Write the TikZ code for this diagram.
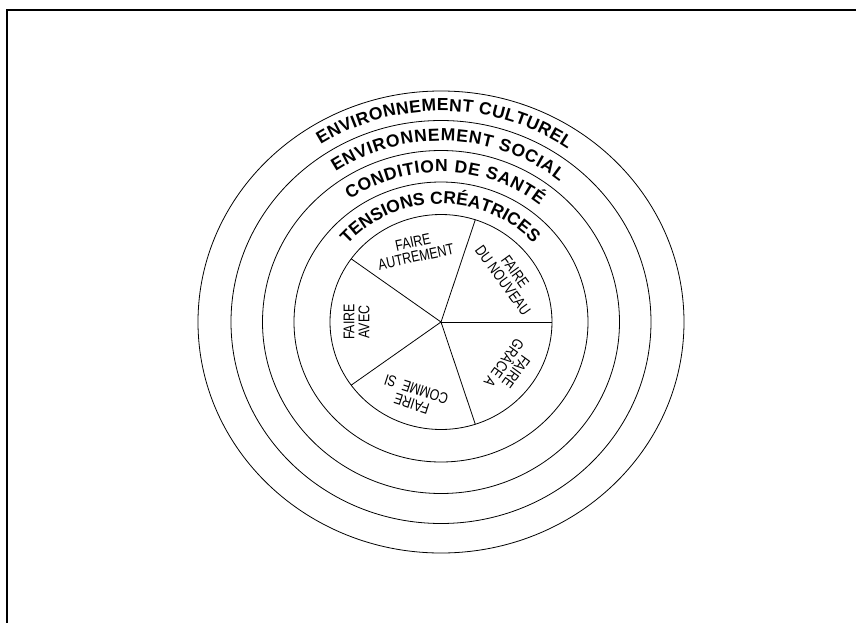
\documentclass[tikz,border=0pt]{standalone}
\usepackage{fontspec}
\setmainfont{Liberation Sans}
\newfontfamily\sectfont[FakeStretch=0.8]{Liberation Sans}
\newcommand\ringfont{\fontsize{17.5}{17.5}\selectfont\bfseries}
\usetikzlibrary{decorations.text}
\tikzset{
  ring/.style={draw=black, line width=0.8pt},
  frameline/.style={draw=black, line width=2pt},
  ringtext/.style={decorate, decoration={text along path, text={#1}, text align=fit to path}},
  secttext/.style={align=center, font=\sectfont\fontsize{15.5}{15}\selectfont, inner sep=0pt},
}
\begin{document}
\begin{tikzpicture}[x=1pt,y=1pt]
\useasboundingbox (-441,-300) rectangle (415,322);
\coordinate (fb) at (-434,-303);
\coordinate (fc) at (-434,311.7);
\coordinate (fr) at (418,311.7);
\draw[frameline] (fb) -- (fc) -- (fr);
\coordinate (c) at (0,0);
\draw[ring] (c) ellipse [x radius=243, y radius=231];
\draw[ring] (c) ellipse [x radius=210, y radius=201.5];
\draw[ring] (c) ellipse [x radius=178.5, y radius=171.5];
\draw[ring] (c) ellipse [x radius=147, y radius=140];
\draw[ring] (c) ellipse [x radius=111, y radius=107.5];
\foreach \a [count=\i] in {0,72,144,216,288} {
  \coordinate (s\i) at (\a:111 and 107.5);
  \draw[ring] (c) -- (s\i);
}
\path[ringtext={|\ringfont|ENVIRONNEMENT CULTUREL}] (123:221 and 211) arc[start angle=123, end angle=55, x radius=221, y radius=211];
\path[ringtext={|\ringfont|ENVIRONNEMENT SOCIAL}] (124:188.5 and 181) arc[start angle=124, end angle=51, x radius=188.5, y radius=181];
\path[ringtext={|\ringfont|CONDITION DE SANTÉ}] (125.5:157 and 150) arc[start angle=125.5, end angle=51, x radius=157, y radius=150];
\path[ringtext={|\ringfont|TENSIONS CRÉATRICES}] (139:124 and 118) arc[start angle=139, end angle=42, x radius=124, y radius=118];
\node[secttext, rotate=12] (t1) at (-26.5,72.5) {FAIRE\\AUTREMENT};
\node[secttext, rotate=-54] (t2) at (68,46) {FAIRE\\DU NOUVEAU};
\node[secttext, rotate=234] (t3) at (69,-45.5) {FAIRE\\GRÂCE A};
\node[secttext, rotate=162] (t4) at (-27,-74.5) {FAIRE\\COMME\ \ SI};
\node[secttext, rotate=90] (t5) at (-84.5,0) {FAIRE\\AVEC};
\end{tikzpicture}
\end{document}
